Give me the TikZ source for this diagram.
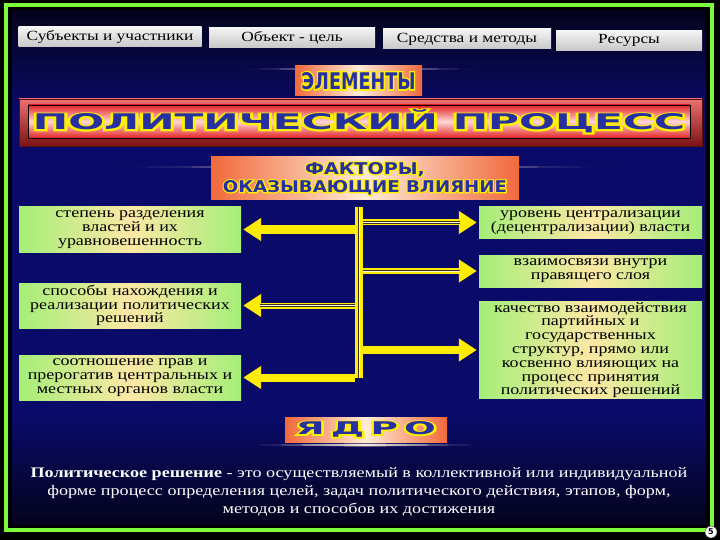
\documentclass[tikz,border=0pt]{standalone}
\usepackage{fontspec}
\setmainfont{Liberation Serif}
\newfontfamily\boxfont{Liberation Serif}[FakeStretch=1.24]
\newfontfamily\bannerfont{DejaVu Sans Bold}
\newfontfamily\rimfont{DejaVu Sans Bold}[FakeBold=14]
\usetikzlibrary{positioning,arrows.meta}
\definecolor{navymid}{RGB}{10,10,104}
\definecolor{navydeep}{RGB}{3,3,28}
\definecolor{limeframe}{RGB}{125,250,60}
\definecolor{arrowyellow}{RGB}{255,236,0}
\definecolor{creamline}{RGB}{255,248,200}
\definecolor{stripedark}{RGB}{60,50,40}
\definecolor{factorgreen}{RGB}{165,238,120}
\definecolor{factorpeach}{RGB}{252,232,165}
\definecolor{headgray}{RGB}{200,200,200}
\definecolor{titleblue}{RGB}{38,48,160}
\definecolor{titlered}{RGB}{225,35,35}
\definecolor{titlepink}{RGB}{255,215,215}
\definecolor{bannerorange}{RGB}{240,105,60}
\definecolor{bannercream}{RGB}{255,236,215}
\definecolor{rimyellow}{RGB}{255,240,0}
\newcommand{\yellowrim}[1]{\leavevmode\rlap{\color{rimyellow}\rimfont#1}{\bannerfont#1}}
\tikzset{
    procframe/.style={draw=limeframe, line width=4pt},
    procglow/.style={left color=navymid, right color=navymid, middle color=white!85!orange},
    prochead/.style={top color=white!92!gray, bottom color=headgray, inner sep=0pt, minimum height=20pt, font=\boxfont\fontsize{14}{14}\selectfont},
    procbanner/.style={left color=bannerorange, right color=bannerorange, middle color=bannercream, inner sep=0pt, text=titleblue, align=center, font=\bannerfont},
    proctitleframe/.style={top color=titlered!65!white, bottom color=titlered!55!black, draw=titlered!40!black, minimum width=683pt, minimum height=47pt, inner sep=0pt},
    proctitle/.style={top color=titlered, bottom color=titlered, middle color=titlepink, draw=black, line width=0.6pt, minimum width=662pt, minimum height=33pt, inner sep=0pt, text=titleblue, font=\bannerfont},
    procfactor/.style={left color=factorgreen, right color=factorgreen, middle color=factorpeach, inner sep=0pt, align=center, font=\boxfont\fontsize{14.5}{13.8}\selectfont},
    prochub/.style={fill=arrowyellow, minimum width=8pt, minimum height=171pt, inner sep=0pt},
    prochubline/.style={draw=stripedark, line width=2.6pt, postaction={draw=creamline, line width=1pt}},
    procarrow/.style={draw=arrowyellow, line width=8pt, -{Triangle[length=18pt,width=22pt]}, shorten >=2pt},
    procstriped/.style={procarrow, line width=6pt, postaction={draw=stripedark, line width=2.6pt, -, shorten >=19pt}, postaction={draw=creamline, line width=1pt, -, shorten >=19pt}},
    procdef/.style={text=white, align=center, font=\boxfont\fontsize{14.6}{18}\selectfont},
    procpage/.style={draw=gray!50!black, fill=white, circle, inner sep=0pt, minimum size=12pt, font=\bannerfont\footnotesize}
}
\begin{document}
\begin{tikzpicture}[x=1pt, y=-1pt, node distance=8pt]
    \useasboundingbox (0,0) rectangle (720,540);
    \fill[black] (0,0) rectangle (720,540);
    \shade[top color=navydeep, bottom color=navymid] (12,11) rectangle (706,110);
    \fill[navymid] (12,110) rectangle (706,420);
    \shade[top color=navymid, bottom color=navydeep] (12,420) rectangle (706,524);
    \draw[procframe] (6,5) rectangle (712,530);

    \node[prochead, minimum width=183pt] (subj) at (110,37) {Субъекты и участники};
    \node[prochead, minimum width=166pt] (goal) at (292,37.5) {Объект - цель};
    \node[prochead, minimum width=168pt] (means) at (467,39) {Средства и методы};
    \node[prochead, minimum width=146pt] (res) at (629,40.5) {Ресурсы};

    \shade[procglow] (240,69) -- (359,67.5) -- (478,69) -- (359,70.5) -- cycle;
    \node[procbanner, minimum width=127pt, minimum height=30pt] (elem) at (358.5,81) {\yellowrim{\resizebox{114pt}{17pt}{ЭЛЕМЕНТЫ}}};

    \node[proctitleframe] (tframe) at (360.5,122.5) {};
    \node[proctitle] (title) at (359,121.5) {\yellowrim{\resizebox{652pt}{20pt}{ПОЛИТИЧЕСКИЙ ПРОЦЕСС}}};

    \shade[procglow] (105,167) -- (365,165.5) -- (624,167) -- (365,168.5) -- cycle;
    \node[procbanner, minimum width=308pt, minimum height=43pt, font=\bannerfont\fontsize{10}{18}\selectfont] (fact) at (365,178.5) {\yellowrim{\resizebox{120pt}{12pt}{ФАКТОРЫ,}}\\\yellowrim{\resizebox{284pt}{12pt}{ОКАЗЫВАЮЩИЕ ВЛИЯНИЕ}}};

    \node[procfactor, minimum width=222pt, minimum height=45pt] (lb1) at (130,229.5) {степень разделения\\властей и их\\уравновешенность};
    \node[procfactor, minimum width=222pt, minimum height=45pt] (lb2) at (130,305.5) {способы нахождения и\\реализации политических\\решений};
    \node[procfactor, minimum width=222pt, minimum height=45pt] (lb3) at (130,377.5) {соотношение прав и\\прерогатив центральных и\\местных органов власти};
    \node[procfactor, minimum width=223pt, minimum height=31pt] (rb1) at (590.5,222.5) {уровень централизации\\(децентрализации) власти};
    \node[procfactor, minimum width=223pt, minimum height=32pt] (rb2) at (590.5,271) {взаимосвязи внутри\\правящего слоя};
    \node[procfactor, minimum width=223pt, minimum height=97pt] (rb3) at (590.5,350) {качество взаимодействия\\партийных и\\государственных\\структур, прямо или\\косвенно влияющих на\\процесс принятия\\политических решений};

    \node[prochub] (hub) at (359,292.5) {};
    \draw[prochubline] (hub.north) -- (hub.south);

    \draw[procarrow] (hub.west |- lb1.east) -- (lb1.east);
    \draw[procstriped] (hub.west |- lb2.east) -- (lb2.east);
    \draw[procarrow] (hub.west |- lb3.east) -- (lb3.east);
    \draw[procstriped] (hub.east |- rb1.west) -- (rb1.west);
    \draw[procstriped] (hub.east |- rb2.west) -- (rb2.west);
    \draw[procarrow] (hub.east |- rb3.west) -- (rb3.west);

    \shade[procglow] (240,445) -- (365,443.5) -- (490,445) -- (365,446.5) -- cycle;
    \node[procbanner, minimum width=162pt, minimum height=25pt] (core) at (366,429.5) {\yellowrim{\resizebox{140pt}{13pt}{Я\,Д\,Р\,О}}};

    \node[procdef] (defn) at (359,492) {\textbf{Политическое решение} - это осуществляемый в коллективной или индивидуальной\\форме процесс определения целей, задач политического действия, этапов, форм,\\методов и способов их достижения};

    \node[procpage] (pnum) at (711,532) {5};
\end{tikzpicture}
\end{document}
